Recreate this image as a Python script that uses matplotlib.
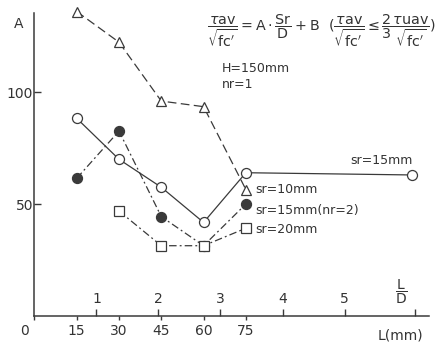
import matplotlib
matplotlib.use('Agg')

from matplotlib import pyplot as plt
from matplotlib.transforms import ScaledTranslation

# L (mm) of the test points
L_pts = [15, 30, 45, 60, 75]

# sr=10mm, nr=1
a_sr10 = [136, 122.3, 96, 93.5, 56.5]
# sr=15mm, nr=1 (one more point far right)
L_sr15 = [15, 30, 45, 60, 75, 134]
a_sr15 = [88.3, 70, 57.5, 41.8, 64, 63]
# sr=15mm, nr=2
a_sr15_nr2 = [61.5, 82.6, 44.4, 31.4, 50]
# sr=20mm
L_sr20 = [30, 45, 60, 75]
a_sr20 = [46.9, 31.4, 31.4, 39.2]

L_ticks = [0, 15, 30, 45, 60, 75]
A_ticks = [50, 100]
LD_ticks = [1, 2, 3, 4, 5]
D = 22.0  # mm
LD_end = 135 / D

INK = '#3a3a3a'
TXT = '#333333'

plt.rcParams['font.family'] = 'DejaVu Sans'
plt.rcParams['mathtext.fontset'] = 'dejavusans'

fig = plt.figure(figsize=(4.47, 3.47), dpi=100)
ax = fig.add_axes([0.077, 0.0893, 0.883, 0.873])

dash = (0, (7, 3.5))
dashdot = (0, (6, 2.5, 1.5, 2.5))
ms = 7.2

# sr=10mm (dashed, open triangles)
ax.plot(L_pts, a_sr10, color=INK, lw=0.9, ls=dash, marker='^', ms=ms + 0.5,
        mfc='white', mec=INK, mew=0.9, clip_on=False, zorder=3)
# sr=15mm (solid, open circles)
ax.plot(L_sr15, a_sr15, color=INK, lw=0.9, ls='-', marker='o', ms=ms,
        mfc='white', mec=INK, mew=0.9, clip_on=False, zorder=4)
# sr=15mm nr=2 (dash-dot, filled circles)
ax.plot(L_pts, a_sr15_nr2, color=INK, lw=0.9, ls=dashdot, marker='o', ms=ms,
        mfc=INK, mec=INK, mew=0.9, clip_on=False, zorder=3)
# sr=20mm (dash-dot, open squares)
ax.plot(L_sr20, a_sr20, color=INK, lw=0.9, ls=dashdot, marker='s', ms=ms,
        mfc='white', mec=INK, mew=0.9, clip_on=False, zorder=5)

ax.set_xlim(0, 140)
ax.set_ylim(0, 135.3)

for s in ['top', 'right']:
    ax.spines[s].set_visible(False)
for s in ['left', 'bottom']:
    ax.spines[s].set_color(INK)
    ax.spines[s].set_linewidth(1.1)

ax.set_yticks(A_ticks)
ax.tick_params(axis='y', direction='in', length=5, width=1, colors=INK,
               labelcolor=TXT, labelsize=10, pad=1)
ax.set_xticks(L_ticks)
ax.tick_params(axis='x', direction='out', length=3, width=1, colors=INK,
               labelcolor=TXT, labelsize=10, pad=3)
# shift the "0" to the left of the spine
lbl0 = ax.get_xticklabels()[0]
lbl0.set_transform(lbl0.get_transform() + ScaledTranslation(-7 / 72, 0, fig.dpi_scale_trans))

# L/D scale sitting on the L axis, ticks pointing up
secax = ax.secondary_xaxis(0.0, functions=(lambda x: x / D, lambda x: x * D))
secax.spines['top'].set_visible(False)
secax.spines['bottom'].set_visible(False)
secax.xaxis.set_ticks_position('top')
secax.xaxis.set_label_position('top')
secax.set_xticks(LD_ticks + [LD_end], [str(t) for t in LD_ticks] + [''])
secax.tick_params(axis='x', direction='out', length=5, width=1, colors=INK,
                  labelcolor=TXT, labelsize=10, pad=2)

ax.text(0.929, 0.08, r'$\dfrac{\mathrm{L}}{\mathrm{D}}$', transform=ax.transAxes,
        ha='center', va='center', fontsize=10, color=TXT)
ax.text(0.928, -0.065, 'L(mm)', transform=ax.transAxes, ha='center', va='center',
        fontsize=10, color=TXT)
ax.text(-0.04, 0.965, 'A', transform=ax.transAxes, ha='center', va='center',
        fontsize=10, color=TXT)

# series labels
ax.text(134, 66.5, 'sr=15mm', ha='right', va='bottom', fontsize=9, color=TXT)
ax.text(78.5, 56.5, 'sr=10mm', ha='left', va='center', fontsize=9, color=TXT)
ax.text(78.5, 47, 'sr=15mm(nr=2)', ha='left', va='center', fontsize=9, color=TXT)
ax.text(78.5, 38.5, 'sr=20mm', ha='left', va='center', fontsize=9, color=TXT)

# formula and conditions
frm = (r'$\dfrac{\tau\mathrm{av}}{\sqrt{\mathrm{fc}^{\prime}}}=\mathrm{A}\cdot'
       r'\dfrac{\mathrm{Sr}}{\mathrm{D}}+\mathrm{B}\ \ (\dfrac{\tau\mathrm{av}}'
       r'{\sqrt{\mathrm{fc}^{\prime}}}\leq\dfrac{2}{3}\dfrac{\tau\mathrm{uav}}'
       r'{\sqrt{\mathrm{fc}^{\prime}}})$')
fig.text(207 / 447, 1 - 31 / 347, frm, ha='left', va='center', fontsize=10.3, color=TXT)
fig.text(222 / 447, 1 - 68 / 347, 'H=150mm', ha='left', va='center', fontsize=9, color=TXT)
fig.text(222 / 447, 1 - 84 / 347, 'nr=1', ha='left', va='center', fontsize=9, color=TXT)

fig.savefig('out.png', dpi=100)
